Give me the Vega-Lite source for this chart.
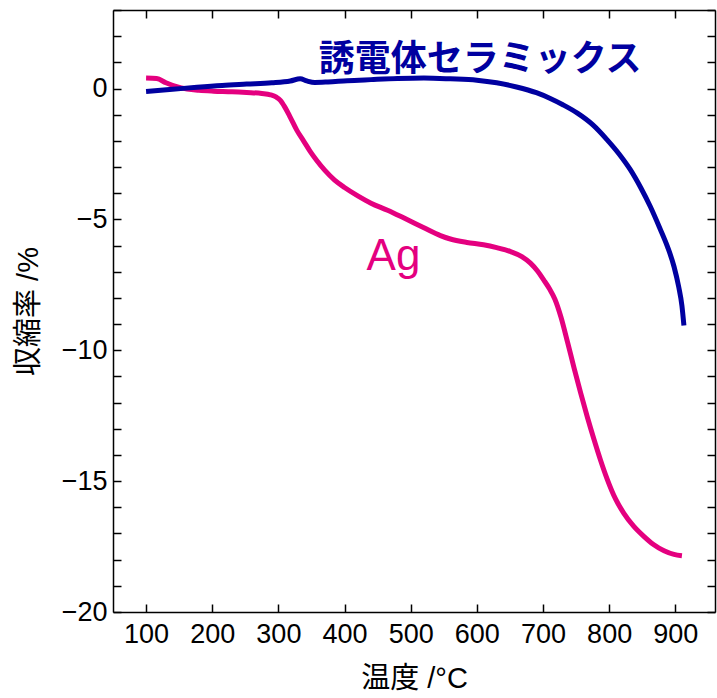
{
  "$schema": "https://vega.github.io/schema/vega-lite/v6.json",
  "width": 602,
  "height": 602,
  "autosize": {"type": "none"},
  "padding": {"left": 113, "top": 10, "right": 2, "bottom": 86},
  "background": "white",
  "config": {
    "view": {"stroke": null},
    "axis": {
      "grid": false,
      "domainColor": "black",
      "domainWidth": 1.5,
      "tickColor": "black",
      "tickWidth": 1.5,
      "labelFont": "Liberation Sans",
      "labelFontSize": 27,
      "labelColor": "black",
      "titleFont": "Liberation Sans, Noto Sans CJK JP",
      "titleFontSize": 29,
      "titleFontWeight": "normal",
      "titleColor": "black"
    }
  },
  "datasets": {
    "curves": [
      {"series": "Ag", "T": 100, "v": 0.40},
      {"series": "Ag", "T": 116, "v": 0.38},
      {"series": "Ag", "T": 130, "v": 0.22},
      {"series": "Ag", "T": 145, "v": 0.08},
      {"series": "Ag", "T": 162, "v": -0.02},
      {"series": "Ag", "T": 180, "v": -0.07},
      {"series": "Ag", "T": 202, "v": -0.10},
      {"series": "Ag", "T": 230, "v": -0.12},
      {"series": "Ag", "T": 252, "v": -0.15},
      {"series": "Ag", "T": 275, "v": -0.19},
      {"series": "Ag", "T": 288, "v": -0.24},
      {"series": "Ag", "T": 297, "v": -0.33},
      {"series": "Ag", "T": 303, "v": -0.45},
      {"series": "Ag", "T": 310, "v": -0.72},
      {"series": "Ag", "T": 318, "v": -1.10},
      {"series": "Ag", "T": 328, "v": -1.60},
      {"series": "Ag", "T": 338, "v": -2.00},
      {"series": "Ag", "T": 348, "v": -2.40},
      {"series": "Ag", "T": 358, "v": -2.75},
      {"series": "Ag", "T": 370, "v": -3.12},
      {"series": "Ag", "T": 385, "v": -3.50},
      {"series": "Ag", "T": 400, "v": -3.78},
      {"series": "Ag", "T": 420, "v": -4.10},
      {"series": "Ag", "T": 440, "v": -4.38},
      {"series": "Ag", "T": 465, "v": -4.65},
      {"series": "Ag", "T": 490, "v": -4.95},
      {"series": "Ag", "T": 520, "v": -5.32},
      {"series": "Ag", "T": 545, "v": -5.62},
      {"series": "Ag", "T": 560, "v": -5.75},
      {"series": "Ag", "T": 585, "v": -5.88},
      {"series": "Ag", "T": 610, "v": -5.97},
      {"series": "Ag", "T": 630, "v": -6.08},
      {"series": "Ag", "T": 651, "v": -6.23},
      {"series": "Ag", "T": 668, "v": -6.42},
      {"series": "Ag", "T": 681, "v": -6.67},
      {"series": "Ag", "T": 692, "v": -6.98},
      {"series": "Ag", "T": 701, "v": -7.31},
      {"series": "Ag", "T": 710, "v": -7.66},
      {"series": "Ag", "T": 718, "v": -8.05},
      {"series": "Ag", "T": 727, "v": -8.72},
      {"series": "Ag", "T": 737, "v": -9.68},
      {"series": "Ag", "T": 747, "v": -10.68},
      {"series": "Ag", "T": 757, "v": -11.64},
      {"series": "Ag", "T": 767, "v": -12.55},
      {"series": "Ag", "T": 777, "v": -13.40},
      {"series": "Ag", "T": 787, "v": -14.20},
      {"series": "Ag", "T": 797, "v": -14.92},
      {"series": "Ag", "T": 810, "v": -15.70},
      {"series": "Ag", "T": 822, "v": -16.22},
      {"series": "Ag", "T": 837, "v": -16.72},
      {"series": "Ag", "T": 852, "v": -17.10},
      {"series": "Ag", "T": 867, "v": -17.42},
      {"series": "Ag", "T": 883, "v": -17.66},
      {"series": "Ag", "T": 898, "v": -17.80},
      {"series": "Ag", "T": 910, "v": -17.85},
      {"series": "誘電体セラミックス", "T": 100, "v": -0.11},
      {"series": "誘電体セラミックス", "T": 140, "v": -0.03},
      {"series": "誘電体セラミックス", "T": 177, "v": 0.05},
      {"series": "誘電体セラミックス", "T": 215, "v": 0.12},
      {"series": "誘電体セラミックス", "T": 252, "v": 0.17},
      {"series": "誘電体セラミックス", "T": 290, "v": 0.22},
      {"series": "誘電体セラミックス", "T": 318, "v": 0.29},
      {"series": "誘電体セラミックス", "T": 333, "v": 0.37},
      {"series": "誘電体セラミックス", "T": 343, "v": 0.29},
      {"series": "誘電体セラミックス", "T": 355, "v": 0.23},
      {"series": "誘電体セラミックス", "T": 375, "v": 0.25},
      {"series": "誘電体セラミックス", "T": 404, "v": 0.30},
      {"series": "誘電体セラミックス", "T": 440, "v": 0.34},
      {"series": "誘電体セラミックス", "T": 480, "v": 0.38},
      {"series": "誘電体セラミックス", "T": 520, "v": 0.40},
      {"series": "誘電体セラミックス", "T": 560, "v": 0.37},
      {"series": "誘電体セラミックス", "T": 600, "v": 0.32},
      {"series": "誘電体セラミックス", "T": 630, "v": 0.22},
      {"series": "誘電体セラミックス", "T": 660, "v": 0.06},
      {"series": "誘電体セラミックス", "T": 690, "v": -0.16},
      {"series": "誘電体セラミックス", "T": 711, "v": -0.38},
      {"series": "誘電体セラミックス", "T": 730, "v": -0.62},
      {"series": "誘電体セラミックス", "T": 752, "v": -0.94},
      {"series": "誘電体セラミックス", "T": 775, "v": -1.38},
      {"series": "誘電体セラミックス", "T": 797, "v": -1.96},
      {"series": "誘電体セラミックス", "T": 815, "v": -2.50},
      {"series": "誘電体セラミックス", "T": 832, "v": -3.10},
      {"series": "誘電体セラミックス", "T": 848, "v": -3.80},
      {"series": "誘電体セラミックス", "T": 862, "v": -4.50},
      {"series": "誘電体セラミックス", "T": 876, "v": -5.30},
      {"series": "誘電体セラミックス", "T": 888, "v": -6.03},
      {"series": "誘電体セラミックス", "T": 898, "v": -6.80},
      {"series": "誘電体セラミックス", "T": 905, "v": -7.56},
      {"series": "誘電体セラミックス", "T": 910, "v": -8.30},
      {"series": "誘電体セラミックス", "T": 913, "v": -9.05}
    ]
  },
  "resolve": {"axis": {"x": "independent", "y": "independent"}},
  "layer": [
    {
      "data": {"name": "curves"},
      "mark": {"type": "line", "strokeWidth": 5, "interpolate": "monotone"},
      "encoding": {
        "x": {
          "field": "T",
          "type": "quantitative",
          "scale": {"domain": [50, 960], "nice": false, "zero": false},
          "axis": {
            "orient": "bottom",
            "values": [100, 200, 300, 400, 500, 600, 700, 800, 900],
            "format": "d",
            "tickSize": -8,
            "labelPadding": 17,
            "title": "温度 /°C",
            "titlePadding": 17
          }
        },
        "y": {
          "field": "v",
          "type": "quantitative",
          "scale": {"domain": [-20, 3], "nice": false, "zero": false},
          "axis": {
            "orient": "left",
            "values": [-20, -19, -18, -17, -16, -15, -14, -13, -12, -11, -10, -9, -8, -7, -6, -5, -4, -3, -2, -1, 0, 1, 2, 3],
            "format": "d",
            "labelExpr": "datum.value % 5 === 0 ? replace(datum.label, '-', '\u2212') : ''",
            "tickSize": -8,
            "labelPadding": 14,
            "title": "収縮率 /%",
            "titlePadding": 18,
            "encode": {
              "ticks": {"update": {"x2": {"signal": "datum.value % 5 === 0 ? 12 : 8"}}}
            }
          }
        },
        "color": {
          "field": "series",
          "type": "nominal",
          "scale": {"domain": ["Ag", "誘電体セラミックス"], "range": ["#e4007f", "#0000a0"]},
          "legend": null
        }
      }
    },
    {
      "data": {"values": [{"label": "Ag", "T": 474, "v": -6.93}]},
      "mark": {"type": "text", "font": "Liberation Sans", "fontSize": 44, "align": "center", "baseline": "alphabetic", "color": "#e4007f"},
      "encoding": {
        "x": {"field": "T", "type": "quantitative", "axis": null},
        "y": {"field": "v", "type": "quantitative", "axis": null},
        "text": {"field": "label"}
      }
    },
    {
      "data": {"values": [{"label": "誘電体セラミックス", "T": 605, "v": 1.1}]},
      "mark": {"type": "text", "font": "Noto Sans CJK JP", "fontSize": 36, "fontWeight": "bold", "align": "center", "baseline": "middle", "color": "#0000a0"},
      "encoding": {
        "x": {
          "field": "T",
          "type": "quantitative",
          "axis": {
            "orient": "top",
            "values": [100, 200, 300, 400, 500, 600, 700, 800, 900],
            "labels": false,
            "tickSize": -8,
            "title": null
          }
        },
        "y": {
          "field": "v",
          "type": "quantitative",
          "axis": {
            "orient": "right",
            "values": [-20, -19, -18, -17, -16, -15, -14, -13, -12, -11, -10, -9, -8, -7, -6, -5, -4, -3, -2, -1, 0, 1, 2, 3],
            "labels": false,
            "tickSize": -8,
            "title": null,
            "encode": {
              "ticks": {"update": {"x2": {"signal": "datum.value % 5 === 0 ? -12 : -8"}}}
            }
          }
        },
        "text": {"field": "label"}
      }
    }
  ]
}
